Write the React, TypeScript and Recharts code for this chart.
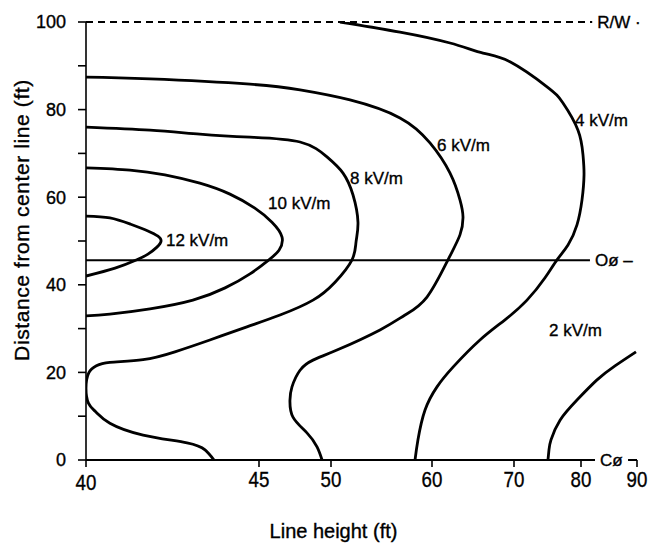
import {
  Label,
  Line,
  LineChart,
  ReferenceDot,
  ReferenceLine,
  XAxis,
  YAxis,
} from "recharts";

// printed line-height axis is not linear: each tick has its own spot along the axis
const heightTicks = [40, 45, 50, 60, 70, 80, 90];
const heightStops = [0, 173, 245, 346, 428, 495, 551];
const distanceTicks = [0, 10, 20, 30, 40, 50, 60, 70, 80, 90, 100];

// contours: [line height (ft), distance from center line (ft)]
const field12: [number, number][] = [
  [40, 55.7], [40.69, 55.3], [41.27, 53.9], [41.79, 52.3], [42.08, 51.1], [42.17, 50.0],
  [42.05, 48.6], [41.79, 47.0], [41.47, 45.7], [40.84, 43.8], [40, 42.0],
];
const field10: [number, number][] = [
  [40, 66.7], [41.27, 66.2], [42.28, 65.1], [43.29, 63.2], [44.16, 60.7], [44.88, 57.5],
  [45.9, 54.3], [46.6, 50.9], [46.39, 47.9], [45.69, 45.7], [44.74, 42.5], [44.02, 39.3],
  [43.09, 36.5], [41.85, 34.5], [40.69, 33.3], [40, 32.9],
];
const field8: [number, number][] = [
  [40, 76.0], [41.85, 75.3], [43.29, 74.4], [44.74, 73.7], [47.85, 72.6], [49.72, 69.2],
  [51.19, 65.5], [52.18, 60.5], [52.67, 54.3], [52.48, 49.8], [52.08, 45.7], [50.4, 40.6],
  [48.75, 36.5], [46.46, 33.1], [44.65, 30.4], [43.58, 27.4], [42.57, 24.7], [41.65, 22.9],
  [40.69, 22.3], [40.3, 21.5], [40.08, 19.9], [40, 16.4], [40.07, 13.0], [40.28, 11.0],
  [40.69, 8.4], [41.65, 5.7], [42.92, 3.9], [43.44, 2.3], [43.7, 0],
];
const field6: [number, number][] = [
  [40, 87.4], [41.85, 87.0], [44.74, 85.8], [47.85, 84.5], [51.88, 82.2], [56.83, 78.1],
  [59.8, 72.4], [62.2, 65.5], [63.41, 59.4], [63.78, 55.5], [63.41, 51.4], [61.95, 45.7],
  [59.5, 37.2], [57.33, 33.1], [54.85, 29.7], [50.59, 25.1], [48.75, 22.8], [47.85, 20.5],
  [47.29, 16.7], [47.15, 13.7], [47.36, 9.8], [48.33, 6.2], [49.03, 3.0], [49.38, 0],
];
const field4: [number, number][] = [
  [50.89, 100], [56.83, 97.7], [62.2, 95.2], [66.22, 92.9], [69.51, 90.9], [74.93, 85.2],
  [77.31, 81.5], [79.55, 75.3], [80.36, 69.6], [80.54, 65.1], [80.18, 59.4], [79.4, 53.7],
  [78.06, 49.1], [76.42, 45.7], [74.63, 41.6], [71.94, 36.5], [68.9, 32.0], [65.85, 27.4],
  [62.56, 21.2], [60.61, 16.7], [59.31, 11.4], [58.61, 4.6], [58.32, 0],
];
const field2: [number, number][] = [
  [75.07, 0], [75.22, 2.3], [75.52, 4.6], [76.87, 9.1], [79.4, 13.7], [82.86, 18.3],
  [86.07, 21.5], [89.82, 24.7],
];

const contourNames = ["12 kV/m", "10 kV/m", "8 kV/m", "6 kV/m", "4 kV/m", "2 kV/m"];
const contourPoints = [field12, field10, field8, field6, field4, field2];
// where each contour's name is written (height, distance)
const contourLabelAt: [number, number][] = [
  [42.31, 50.2], [45.63, 58.7], [51.88, 64.4], [60.61, 71.9], [79.1, 77.6], [75.22, 29.7],
];

const rightOfWay = 100;
const outerPhase = 45.6;

const toAxis = (h: number) => {
  for (let i = 1; i < heightTicks.length; i++) {
    if (h <= heightTicks[i] || i === heightTicks.length - 1) {
      const t = (h - heightTicks[i - 1]) / (heightTicks[i] - heightTicks[i - 1]);
      return heightStops[i - 1] + t * (heightStops[i] - heightStops[i - 1]);
    }
  }
  return 0;
};

const heightLabel = (pos: number) => {
  const i = heightStops.indexOf(pos);
  return i >= 0 ? String(heightTicks[i]) : "";
};

const ink = { fill: "#000", stroke: "#000", strokeWidth: 0.35 };

const XTick = (props: any) => {
  const { x, y, payload } = props;
  return (
    <g transform={`translate(${x},${y})`}>
      <text
        transform="scale(0.85,1)"
        textAnchor="middle"
        dy="0.71em"
        y={payload.value === 0 ? 5 : 2}
        fontSize={22}
        {...ink}
      >
        {heightLabel(payload.value)}
      </text>
    </g>
  );
};

const YTitle = () => {
  const cx = 21;
  const cy = 220;
  return (
    <text
      x={cx}
      y={cy}
      transform={`rotate(-90 ${cx} ${cy})`}
      textAnchor="middle"
      dominantBaseline="central"
      fontSize={21}
      letterSpacing={0.6}
      {...ink}
    >
      Distance from center line (ft)
    </text>
  );
};

export default function App() {
  const series = contourPoints.map((pts) => pts.map(([h, d]) => ({ x: toAxis(h), y: d })));
  const textStyle = { ...ink, fontSize: 17 };

  return (
    <div
      style={{
        position: "absolute",
        left: 0,
        top: 0,
        background: "#fff",
        fontFamily: '"Liberation Sans", Arial, sans-serif',
      }}
    >
      <LineChart width={651} height={544} margin={{ top: 22, right: 14, bottom: 0, left: 0 }}>
        <XAxis
          type="number"
          dataKey="x"
          domain={[0, heightStops[heightStops.length - 1]]}
          ticks={heightStops}
          allowDataOverflow
          axisLine={false}
          tickLine={{ stroke: "#000", strokeWidth: 1.6 }}
          tickSize={7}
          tickMargin={2}
          tick={<XTick />}
          height={84}
        >
          <Label value="Line height (ft)" position="insideBottom" offset={6} dx={-28} fontSize={20} {...ink} />
        </XAxis>
        <YAxis
          type="number"
          dataKey="y"
          domain={[0, 100]}
          ticks={distanceTicks}
          allowDataOverflow
          width={86}
          axisLine={{ stroke: "#000", strokeWidth: 1.6 }}
          tickLine={{ stroke: "#000", strokeWidth: 1.6 }}
          tickSize={8}
          tickMargin={12}
          tickFormatter={(v: number) => (v % 20 === 0 ? String(v) : "")}
          tick={{ ...ink, fontSize: 18 }}
        >
          <Label content={<YTitle />} />
        </YAxis>

        {/* ground line (center line) */}
        <ReferenceLine
          segment={[{ x: toAxis(40), y: 0 }, { x: toAxis(82.5), y: 0 }]}
          stroke="#000"
          strokeWidth={2}
          label={{ value: "Cø", position: "right", offset: 5, ...textStyle }}
        />
        <ReferenceLine
          segment={[{ x: toAxis(88.4), y: 0 }, { x: toAxis(90), y: 0 }]}
          stroke="#000"
          strokeWidth={2}
        />
        {/* right of way */}
        <ReferenceLine
          segment={[{ x: toAxis(40), y: rightOfWay }, { x: toAxis(82), y: rightOfWay }]}
          stroke="#000"
          strokeWidth={2}
          strokeDasharray="7 5"
          label={{ value: "R/W ·", position: "right", offset: 5, ...textStyle }}
        />
        {/* outer phase */}
        <ReferenceLine
          segment={[{ x: toAxis(40), y: outerPhase }, { x: toAxis(81.6), y: outerPhase }]}
          stroke="#000"
          strokeWidth={2}
          label={{ value: "Oø –", position: "right", offset: 5, ...textStyle }}
        />

        {series.map((data, i) => (
          <Line
            key={contourNames[i]}
            data={data}
            dataKey="y"
            type="natural"
            stroke="#000"
            strokeWidth={2.8}
            dot={false}
            activeDot={false}
            isAnimationActive={false}
          />
        ))}

        {contourLabelAt.map(([h, d], i) => (
          <ReferenceDot
            key={"lbl" + i}
            x={toAxis(h)}
            y={d}
            r={0}
            fill="none"
            stroke="none"
            label={{ value: contourNames[i], position: "right", offset: 0, ...textStyle }}
          />
        ))}
      </LineChart>
    </div>
  );
}
